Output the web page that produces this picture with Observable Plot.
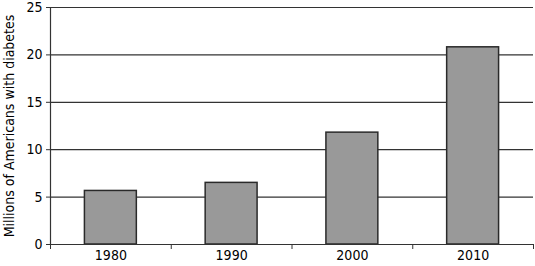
<!DOCTYPE html>
<html>
<head>
<meta charset="utf-8">
<script src="https://cdn.jsdelivr.net/npm/d3@7"></script>
<script src="https://cdn.jsdelivr.net/npm/@observablehq/plot@0.6"></script>
<style>
  body { margin: 0; background: #fff; }
  #chart svg { font-family: "Liberation Sans Narrow", "Arial Narrow", "DejaVu Sans Condensed", sans-serif; overflow: visible; }
</style>
</head>
<body>
<div id="chart"></div>
<script>
const years = ["1980", "1990", "2000", "2010"];
const values = [5.65, 6.5, 11.8, 20.8];
const yTicks = [0, 5, 10, 15, 20, 25];
const yLabel = "Millions of Americans with diabetes";

const pad = 0.285;
const data = years.map((y, i) => ({ year: y, i, value: values[i] }));
const boundaries = d3.range(years.length + 1);

const chart = Plot.plot({
  width: 535,
  height: 266,
  marginLeft: 50,
  marginRight: 2,
  marginTop: 7,
  marginBottom: 22,
  style: { fontSize: "14px", color: "#000", background: "#fff" },
  x: { type: "linear", domain: [0, years.length] },
  y: { domain: [0, 25] },
  marks: [
    Plot.gridY(yTicks.slice(1), { stroke: "#333", strokeOpacity: 1, strokeWidth: 1.2 }),
    Plot.rectY(data, {
      x1: d => d.i + pad,
      x2: d => d.i + 1 - pad,
      y1: 0,
      y2: "value",
      fill: "#999999",
      stroke: "#2a2a2a",
      strokeWidth: 1.5
    }),
    Plot.ruleY([0], { stroke: "#333", strokeWidth: 1.2 }),
    Plot.ruleX([0], { stroke: "#333", strokeWidth: 1.2 }),
    Plot.axisY(yTicks, {
      tickSize: 4,
      tickPadding: 4,
      fontSize: 14,
      stroke: "#333",
      label: yLabel,
      labelAnchor: "center",
      labelArrow: "none",
      labelOffset: 46
    }),
    Plot.axisX(boundaries, {
      tickSize: 5,
      tickFormat: () => "",
      stroke: "#333",
      label: null
    }),
    Plot.axisX(boundaries.slice(0, -1).map(i => i + 0.5), {
      tickSize: 0,
      tickPadding: 6,
      fontSize: 14,
      tickFormat: (d) => years[Math.floor(d)],
      label: null
    })
  ]
});
document.getElementById("chart").appendChild(chart);
</script>
</body>
</html>
